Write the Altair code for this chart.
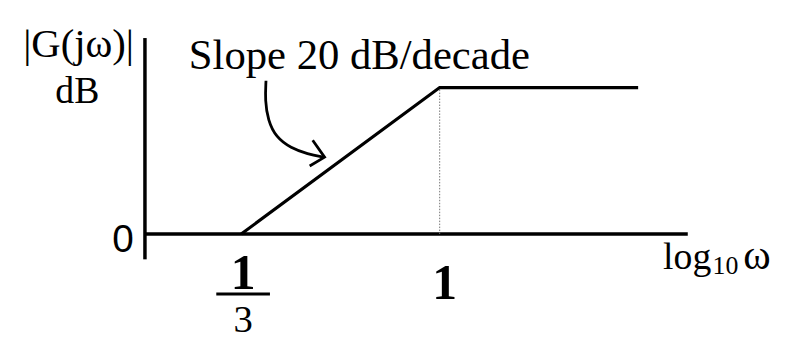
import altair as alt
import pandas as pd

# Asymptotic Bode magnitude: x = log10(omega), y = |G(jw)| in dB
resp_x = [-0.4771, 0.0, 0.4771]      # log10(1/3), log10(1), log10(3)
resp_y = [0.0, 9.542, 9.542]         # 20 dB/decade rise, then flat

x_dom = [-0.7085, 0.5964]
y_dom = [-1.65, 12.77]

# curved annotation arrow (data units)
arrow_x = [-0.4175, -0.4198, -0.4127, -0.3936, -0.3578, -0.3173, -0.2791]
arrow_y = [9.99, 8.70, 7.41, 6.31, 5.60, 5.21, 5.01]
head_x = [-0.3053, -0.2767, -0.3125]
head_y = [6.11, 5.01, 4.43]

# fraction bar under "1" of 1/3
frac_x = [-0.537, -0.408]
frac_y = -3.91

# labels: text, x, y, size, font, weight, align
labels = [
    ("|G(jω)|", -0.868, 11.55, 41, "Liberation Serif", "normal", "center"),
    ("dB", -0.871, 8.57, 38, "Liberation Serif", "normal", "center"),
    ("Slope 20 dB/decade", -0.193, 10.77, 43, "Liberation Serif", "normal", "center"),
    ("0", -0.761, -1.20, 39, "Liberation Sans", "normal", "center"),
    ("1", -0.4723, -3.59, 50, "Liberation Serif", "bold", "center"),
    ("3", -0.4723, -6.40, 39, "Liberation Serif", "normal", "center"),
    ("1", 0.012, -4.24, 50, "Liberation Serif", "bold", "center"),
    ("log", 0.537, -2.30, 38, "Liberation Serif", "normal", "left"),
    ("10", 0.656, -2.62, 26, "Liberation Serif", "normal", "left"),
    ("ω", 0.730, -2.30, 42, "Liberation Serif", "normal", "left"),
]

X = lambda f="x": alt.X(f + ":Q", scale=alt.Scale(domain=x_dom, nice=False, zero=False), axis=None)
Y = lambda f="y": alt.Y(f + ":Q", scale=alt.Scale(domain=y_dom, nice=False, zero=False), axis=None)

# axes drawn as rules
yaxis = alt.Chart(pd.DataFrame({"x": [x_dom[0]], "y": [y_dom[0]], "y2": [y_dom[1]]})).mark_rule(
    color="black", strokeWidth=3.5).encode(x=X(), y=Y(), y2="y2:Q")
xaxis = alt.Chart(pd.DataFrame({"x": [x_dom[0]], "x2": [x_dom[1]], "y": [0.0]})).mark_rule(
    color="black", strokeWidth=3.5).encode(x=X(), x2="x2:Q", y=Y())

dotted = alt.Chart(pd.DataFrame({"x": [resp_x[1]], "y": [0.0], "y2": [resp_y[1]]})).mark_rule(
    color="#777777", strokeWidth=1, strokeDash=[1.5, 1.5]).encode(x=X(), y=Y(), y2="y2:Q")

resp = alt.Chart(pd.DataFrame({"x": resp_x, "y": resp_y})).mark_line(
    color="black", strokeWidth=3.2).encode(x=X(), y=Y())

arrow = alt.Chart(pd.DataFrame({"x": arrow_x, "y": arrow_y, "o": list(range(len(arrow_x)))})).mark_line(
    color="black", strokeWidth=2.8, interpolate="basis").encode(x=X(), y=Y(), order="o:Q")
head = alt.Chart(pd.DataFrame({"x": head_x, "y": head_y, "o": list(range(len(head_x)))})).mark_line(
    color="black", strokeWidth=2.8).encode(x=X(), y=Y(), order="o:Q")

frac = alt.Chart(pd.DataFrame({"x": [frac_x[0]], "x2": [frac_x[1]], "y": [frac_y]})).mark_rule(
    color="black", strokeWidth=3).encode(x=X(), x2="x2:Q", y=Y())

layers = [yaxis, xaxis, dotted, resp, arrow, head, frac]
for t, lx, ly, sz, fnt, wt, al in labels:
    layers.append(
        alt.Chart(pd.DataFrame({"x": [lx], "y": [ly], "t": [t]})).mark_text(
            font=fnt, fontSize=sz, fontWeight=wt, align=al, baseline="alphabetic", color="black"
        ).encode(x=X(), y=Y(), text="t:N")
    )

chart = alt.layer(*layers).properties(
    width=547, height=223,
    autosize=alt.AutoSizeParams(type="none"),
    padding={"left": 138, "top": 29, "right": 101, "bottom": 81},
    background="white",
).configure_view(stroke=None)

chart.save("out.html", embed_options={"renderer": "svg", "actions": False})
